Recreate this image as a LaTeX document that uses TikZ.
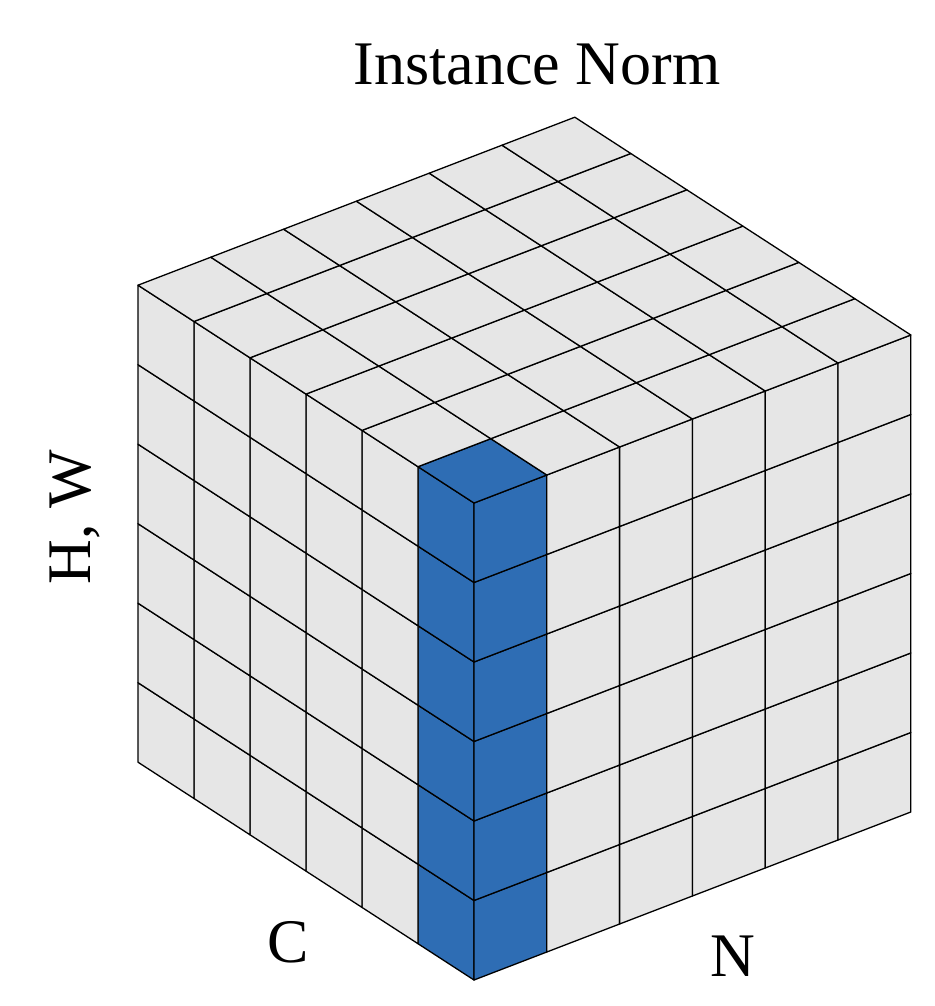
\documentclass[tikz,border=0pt]{standalone}
\usepackage{fontspec}
\setmainfont{Liberation Serif}
\begin{document}
\begin{tikzpicture}[x=1pt,y=-1pt,
  cell/.style={draw=black,line width=1.3pt,line join=round},
  lbl/.style={font=\fontsize{62}{62}\selectfont,inner sep=0pt}]
\definecolor{cg}{HTML}{E6E6E6}
\definecolor{cb}{HTML}{2E6DB4}
\useasboundingbox (0,0) rectangle (934,1006);
\def\Fx{474}\def\Fy{980}
\def\ax{-56}\def\ay{-36.3}
\def\bx{72.8}\def\by{-28}
\def\v{-79.5}
% left face
\foreach \i in {0,...,5}{\foreach \j in {0,...,5}{
  \ifnum\i=0 \def\col{cb}\else\def\col{cg}\fi
  \path[cell,fill=\col] (\Fx+\i*\ax,\Fy+\i*\ay+\j*\v) -- ++(\ax,\ay) -- ++(0,\v) -- ++(-\ax,-\ay) -- cycle;
}}
% right face
\foreach \k in {0,...,5}{\foreach \j in {0,...,5}{
  \ifnum\k=0 \def\col{cb}\else\def\col{cg}\fi
  \path[cell,fill=\col] (\Fx+\k*\bx,\Fy+\k*\by+\j*\v) -- ++(\bx,\by) -- ++(0,\v) -- ++(-\bx,-\by) -- cycle;
}}
% top face
\foreach \i in {0,...,5}{\foreach \k in {0,...,5}{
  \def\col{cg}
  \ifnum\i=0 \ifnum\k=0 \def\col{cb}\fi\fi
  \path[cell,fill=\col] (\Fx+\i*\ax+\k*\bx,\Fy+6*\v+\i*\ay+\k*\by) -- ++(\ax,\ay) -- ++(\bx,\by) -- ++(-\ax,-\ay) -- cycle;
}}
\node[lbl] (title) at (537,65) {Instance Norm};
\node[lbl,rotate=90] (hw) at (75,517) {H, W};
\node[lbl] (c) at (288,942) {C};
\node[lbl] (n) at (733,956) {N};
\end{tikzpicture}
\end{document}
